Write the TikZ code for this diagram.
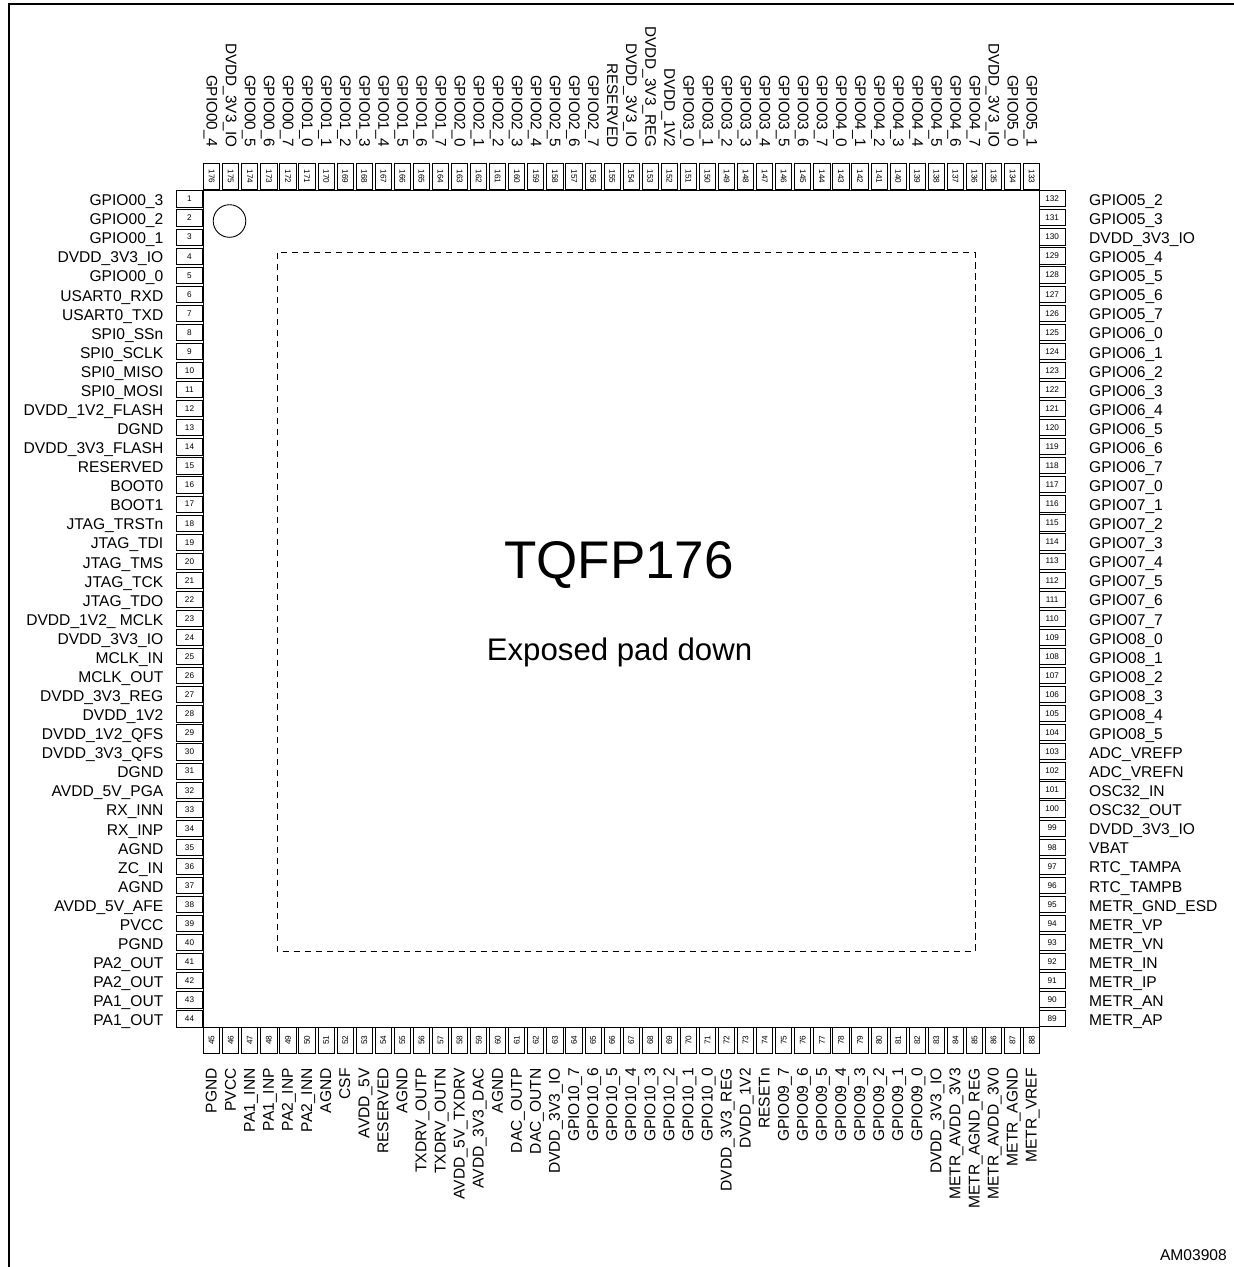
\documentclass[tikz,border=0pt]{standalone}
\usepackage{fontspec}
\setmainfont{Liberation Sans}
\usetikzlibrary{calc}
\tikzset{
  pinbox/.style={draw, line width=1pt, inner sep=0pt, minimum width=26pt, minimum height=16.2pt, font=\fontsize{8.2}{9}\selectfont},
  pinname/.style={inner sep=0pt, font=\fontsize{15.6}{18}\selectfont},
}
\begin{document}
\begin{tikzpicture}[x=1pt,y=-1pt]
            \useasboundingbox (0,0) rectangle (1234,1267);
            \draw [line width=1.7pt] (9,1267) -- (9,4) -- (1234,4);
            \draw [line width=1pt] (203.2,190) rectangle (1039.5,1027);
            \draw [line width=0.9pt] (229.5,221) circle (16.3);
            \draw [line width=1pt, dash pattern=on 6.5pt off 4.5pt] (277,252.5) rectangle (975,951);
            \node (title) [inner sep=0pt, font=\fontsize{53}{60}\selectfont] at (619,565) {TQFP176};
            \node (padnote) [inner sep=0pt, font=\fontsize{31.2}{36}\selectfont] at (619.5,652) {Exposed pad down};
            \node (refcode) [inner sep=0pt, anchor=base east, font=\fontsize{15.6}{18}\selectfont] at (1227,1260) {AM03908};
            % left side
            \foreach \name [count=\i] in {GPIO00\_3,GPIO00\_2,GPIO00\_1,DVDD\_3V3\_IO,GPIO00\_0,USART0\_RXD,USART0\_TXD,SPI0\_SSn,SPI0\_SCLK,SPI0\_MISO,SPI0\_MOSI,DVDD\_1V2\_FLASH,DGND,DVDD\_3V3\_FLASH,RESERVED,BOOT0,BOOT1,JTAG\_TRSTn,JTAG\_TDI,JTAG\_TMS,JTAG\_TCK,JTAG\_TDO,DVDD\_1V2\_ MCLK,DVDD\_3V3\_IO,MCLK\_IN,MCLK\_OUT,DVDD\_3V3\_REG,DVDD\_1V2,DVDD\_1V2\_QFS,DVDD\_3V3\_QFS,DGND,AVDD\_5V\_PGA,RX\_INN,RX\_INP,AGND,ZC\_IN,AGND,AVDD\_5V\_AFE,PVCC,PGND,PA2\_OUT,PA2\_OUT,PA1\_OUT,PA1\_OUT} {
                \pgfmathsetmacro{\yy}{199+19.07*(\i-1)}
                \node (pin\i) [pinbox] at (189.5,\yy) {\i};
                \node (name\i) [pinname, anchor=base east] at (163.5,\yy+6.7) {\name};
            }
            % bottom side
            \foreach \name [count=\i from 45] in {PGND,PVCC,PA1\_INN,PA1\_INP,PA2\_INP,PA2\_INN,AGND,CSF,AVDD\_5V,RESERVED,AGND,TXDRV\_OUTP,TXDRV\_OUTN,AVDD\_5V\_TXDRV,AVDD\_3V3\_DAC,AGND,DAC\_OUTP,DAC\_OUTN,DVDD\_3V3\_IO,GPIO10\_7,GPIO10\_6,GPIO10\_5,GPIO10\_4,GPIO10\_3,GPIO10\_2,GPIO10\_1,GPIO10\_0,DVDD\_3V3\_REG,DVDD\_1V2,RESETn,GPIO09\_7,GPIO09\_6,GPIO09\_5,GPIO09\_4,GPIO09\_3,GPIO09\_2,GPIO09\_1,GPIO09\_0,DVDD\_3V3\_IO,METR\_AVDD\_3V3,METR\_AGND\_REG,METR\_AVDD\_3V0,METR\_AGND,METR\_VREF} {
                \pgfmathsetmacro{\xx}{211.7+19.07*(\i-45)}
                \node (pin\i) [pinbox, rotate=90] at (\xx,1040) {\i};
                \node (name\i) [pinname, rotate=90, anchor=base east] at (\xx+5,1068) {\name};
            }
            % right side
            \foreach \name [count=\i from 0] in {GPIO05\_2,GPIO05\_3,DVDD\_3V3\_IO,GPIO05\_4,GPIO05\_5,GPIO05\_6,GPIO05\_7,GPIO06\_0,GPIO06\_1,GPIO06\_2,GPIO06\_3,GPIO06\_4,GPIO06\_5,GPIO06\_6,GPIO06\_7,GPIO07\_0,GPIO07\_1,GPIO07\_2,GPIO07\_3,GPIO07\_4,GPIO07\_5,GPIO07\_6,GPIO07\_7,GPIO08\_0,GPIO08\_1,GPIO08\_2,GPIO08\_3,GPIO08\_4,GPIO08\_5,ADC\_VREFP,ADC\_VREFN,OSC32\_IN,OSC32\_OUT,DVDD\_3V3\_IO,VBAT,RTC\_TAMPA,RTC\_TAMPB,METR\_GND\_ESD,METR\_VP,METR\_VN,METR\_IN,METR\_IP,METR\_AN,METR\_AP} {
                \pgfmathsetmacro{\yy}{198.8+19.07*\i}
                \pgfmathtruncatemacro{\n}{132-\i}
                \node (pin\n) [pinbox] at (1052.2,\yy) {\n};
                \node (name\n) [pinname, anchor=base west] at (1089,\yy+6.7) {\name};
            }
            % top side
            \foreach \name [count=\i from 0] in {GPIO00\_4,DVDD\_3V3\_IO,GPIO00\_5,GPIO00\_6,GPIO00\_7,GPIO01\_0,GPIO01\_1,GPIO01\_2,GPIO01\_3,GPIO01\_4,GPIO01\_5,GPIO01\_6,GPIO01\_7,GPIO02\_0,GPIO02\_1,GPIO02\_2,GPIO02\_3,GPIO02\_4,GPIO02\_5,GPIO02\_6,GPIO02\_7,RESERVED,DVDD\_3V3\_IO,DVDD\_3V3\_REG,DVDD\_1V2,GPIO03\_0,GPIO03\_1,GPIO03\_2,GPIO03\_3,GPIO03\_4,GPIO03\_5,GPIO03\_6,GPIO03\_7,GPIO04\_0,GPIO04\_1,GPIO04\_2,GPIO04\_3,GPIO04\_4,GPIO04\_5,GPIO04\_6,GPIO04\_7,DVDD\_3V3\_IO,GPIO05\_0,GPIO05\_1} {
                \pgfmathsetmacro{\xx}{211.7+19.07*\i}
                \pgfmathtruncatemacro{\n}{176-\i}
                \node (pin\n) [pinbox, rotate=-90] at (\xx,176.5) {\n};
                \node (name\n) [pinname, font=\fontsize{15.3}{18}\selectfont, rotate=-90, anchor=base east] at (\xx-5,147.5) {\name};
            }
        \end{tikzpicture}
\end{document}
